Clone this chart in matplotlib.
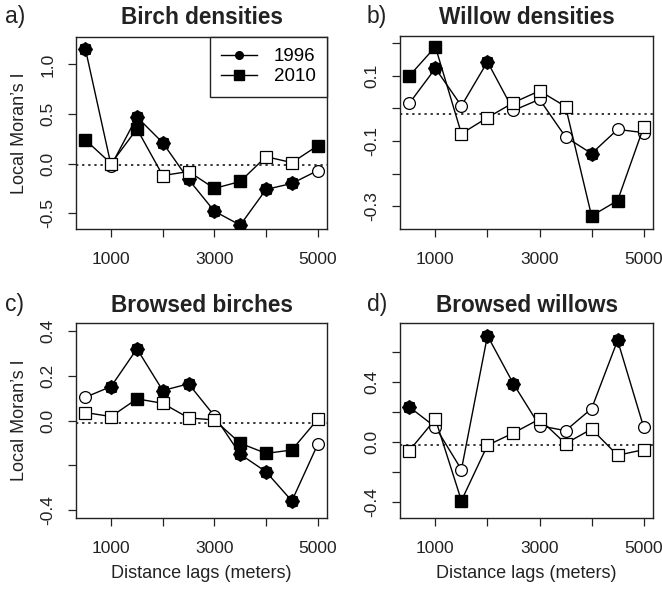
import matplotlib.pyplot as plt
import numpy as np

plt.rcParams['font.family'] = ['Liberation Sans', 'DejaVu Sans']

# distance lags
lags = [500, 1000, 1500, 2000, 2500, 3000, 3500, 4000, 4500, 5000]

# a) birch densities
birch_96 = [1.16, -0.02, 0.47, 0.21, -0.16, -0.48, -0.62, -0.26, -0.20, -0.07]
birch_96_sig = [1, 0, 1, 1, 1, 1, 1, 1, 1, 0]
birch_10 = [0.24, 0.00, 0.35, -0.12, -0.08, -0.25, -0.18, 0.07, 0.01, 0.18]
birch_10_sig = [1, 0, 1, 0, 0, 1, 1, 0, 0, 1]

# b) willow densities
willow_96 = [0.016, 0.123, 0.008, 0.143, -0.006, 0.028, -0.087, -0.138, -0.064, -0.074]
willow_96_sig = [0, 1, 0, 1, 0, 0, 0, 1, 0, 0]
willow_10 = [0.100, 0.189, -0.077, -0.028, 0.018, 0.054, 0.006, -0.329, -0.282, -0.057]
willow_10_sig = [1, 1, 0, 0, 0, 0, 0, 1, 1, 0]

# c) browsed birches
bbirch_96 = [0.104, 0.152, 0.320, 0.134, 0.164, 0.021, -0.150, -0.228, -0.358, -0.106]
bbirch_96_sig = [0, 1, 1, 1, 1, 0, 1, 1, 1, 0]
bbirch_10 = [0.036, 0.018, 0.097, 0.077, 0.012, 0.003, -0.101, -0.146, -0.131, 0.006]
bbirch_10_sig = [0, 0, 1, 0, 0, 0, 1, 1, 1, 0]

# d) browsed willows
bwillow_96 = [0.232, 0.099, -0.183, 0.705, 0.385, 0.108, 0.075, 0.221, 0.674, 0.099]
bwillow_96_sig = [1, 0, 0, 1, 1, 0, 0, 0, 1, 0]
bwillow_10 = [-0.057, 0.152, -0.389, -0.022, 0.060, 0.152, -0.011, 0.086, -0.088, -0.051]
bwillow_10_sig = [0, 0, 1, 0, 0, 0, 0, 0, 0, 0]

titles = ['Birch densities', 'Willow densities', 'Browsed birches', 'Browsed willows']
letters = ['a)', 'b)', 'c)', 'd)']
expected = [-0.01, -0.016, -0.012, -0.02]
ylims = [(-0.659, 1.276), (-0.369, 0.222), (-0.434, 0.435), (-0.504, 0.789)]
yticks = [[-0.5, 0.0, 0.5, 1.0],
          [-0.3, -0.2, -0.1, 0.0, 0.1, 0.2],
          [-0.4, -0.2, 0.0, 0.2, 0.4],
          [-0.4, -0.2, 0.0, 0.2, 0.4, 0.6]]
ytick_labels = [['-0.5', '0.0', '0.5', '1.0'],
                ['-0.3', '', '-0.1', '', '0.1', ''],
                ['-0.4', '', '0.0', '0.2', '0.4'],
                ['-0.4', '', '0.0', '', '0.4', '']]
xticks = [1000, 2000, 3000, 4000, 5000]
xtick_labels = ['1000', '', '3000', '', '5000']

series = [(birch_96, birch_96_sig, birch_10, birch_10_sig),
          (willow_96, willow_96_sig, willow_10, willow_10_sig),
          (bbirch_96, bbirch_96_sig, bbirch_10, bbirch_10_sig),
          (bwillow_96, bwillow_96_sig, bwillow_10, bwillow_10_sig)]

W, H = 662, 597
fig = plt.figure(figsize=(W / 100, H / 100), dpi=100)

# axes boxes in pixels: left, top, right, bottom
boxes = [(76, 37, 327, 229), (400, 36, 653, 229),
         (76, 323, 327, 518), (400, 323, 653, 518)]


def draw_points(ax, x, y, sig, marker, star, z):
    ax.plot(x, y, '-', color='black', lw=1, zorder=z)
    ms = 8.5 if marker == 'o' else 9
    for xi, yi, s in zip(x, y, sig):
        if s:
            ax.plot(xi, yi, marker, ms=ms, mfc='black', mec='black', zorder=z + 1)
            if star:
                # spiky look of the filled 1996 points
                ax.plot(xi, yi, marker=(8, 2, 0), ms=10, mec='black', mew=1.4, zorder=z + 1)
        else:
            ax.plot(xi, yi, marker, ms=ms, mfc='white', mec='black', mew=0.9, zorder=z + 1)


for i in range(4):
    l, t, r, b = boxes[i]
    ax = fig.add_axes([l / W, 1 - b / H, (r - l) / W, (b - t) / H])
    y96, s96, y10, s10 = series[i]
    draw_points(ax, lags, y96, s96, 'o', True, 2)
    draw_points(ax, lags, y10, s10, 's', False, 4)
    ax.axhline(expected[i], color='black', ls=(0, (1.5, 2.5)), lw=1.1, zorder=1)

    ax.set_xlim(320, 5180)
    ax.set_ylim(*ylims[i])
    ax.set_xticks(xticks)
    ax.set_xticklabels(xtick_labels, fontsize=12.5)
    ax.set_yticks(yticks[i])
    ax.set_yticklabels(ytick_labels[i], fontsize=12.5, rotation=90, va='center')
    ax.tick_params(axis='x', length=5.5, width=0.9, pad=11, color='#222222', labelcolor='#222222')
    ax.tick_params(axis='y', length=5.5, width=0.9, pad=9.5, color='#222222', labelcolor='#222222')
    for sp in ax.spines.values():
        sp.set_linewidth(1.0)
        sp.set_color('#222222')

    cx = (l + r) / 2
    ty = 17 if i < 2 else 305
    fig.text(cx / W, 1 - ty / H, titles[i], fontsize=16.3, fontweight='bold',
             ha='center', va='center', color='#222222')
    fig.text((5 if i % 2 == 0 else 367) / W, 1 - ty / H, letters[i], fontsize=16.5,
             ha='left', va='center', color='#222222')

    if i % 2 == 0:
        fig.text(20 / W, 1 - (t + b) / 2 / H, "Local Moran\u2019s I", fontsize=13,
                 rotation=90, ha='center', va='center', color='#222222')
    if i >= 2:
        fig.text(cx / W, 1 - 573 / H, 'Distance lags (meters)', fontsize=13,
                 ha='center', va='center', color='#222222')

    if i == 0:
        h1, = ax.plot([], [], '-o', color='black', ms=5.5, lw=1)
        h2, = ax.plot([], [], '-s', color='black', ms=7, lw=1)
        leg = ax.legend([h1, h2], ['1996', '2010'], loc='upper right', fontsize=13.5,
                        frameon=True, fancybox=False, borderaxespad=0,
                        handlelength=1.9, handletextpad=0.9, borderpad=0.6,
                        labelspacing=0.15)
        leg.set_zorder(10)
        leg.get_frame().set_edgecolor('#222222')
        leg.get_frame().set_linewidth(1.0)
        leg.get_frame().set_alpha(1)

fig.savefig('out.png', dpi=100)
